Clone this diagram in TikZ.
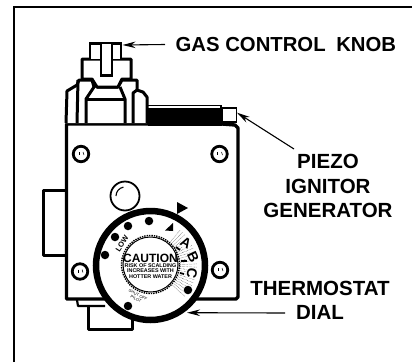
\documentclass[tikz,border=0pt]{standalone}
\usepackage{fontspec}
\setmainfont{Liberation Sans}
\usetikzlibrary{arrows.meta,calc}
\tikzset{
  px/.style={x=1pt,y=-1pt},
  thick line/.style={line width=3pt,line join=round},
  body line/.style={line width=3.4pt,line join=round},
  med line/.style={line width=2.2pt,line join=round},
  label text/.style={font=\bfseries\fontsize{20.5}{24.5}\selectfont,align=center,inner sep=0pt},
  leader/.style={line width=1.1pt,-{Stealth[length=13pt,width=6.5pt]}},
  screw/.style={circle,draw,line width=2.8pt,minimum size=15.5pt,inner sep=0pt,fill=white},
  dot/.style={circle,fill=black,minimum size=8.5pt,inner sep=0pt},
  small/.style={font=\bfseries\fontsize{5.4}{5.5}\selectfont,inner sep=0pt,align=center},
  dial letter/.style={font=\bfseries\fontsize{14}{14}\selectfont,fill=white,inner sep=.3pt},
}
\begin{document}
\begin{tikzpicture}[px]
\useasboundingbox (0,0) rectangle (412,362);
\fill[white] (0,0) rectangle (412,362);
% frame
\draw[line width=1.7pt] (14,362) -- (14,7.3) -- (412,7.3);
% left tab
\draw[thick line] (66,190) -- (43,190) -- (43,255) -- (66,255);
% bottom lug
\draw[med line] (77,300) -- (78,306) -- (105,306);
\draw[thick line] (88,307) -- (88,329) -- (132,329) -- (132,318);
% body
\draw[body line,fill=white] (66.5,124) -- (66.5,299) -- (236,299) -- (238,297) -- (238,128) -- (235,125) -- (222,124) -- cycle;
% piezo
\fill (148,108) rectangle (222,126);
\draw[line width=1.2pt] (148,105.5) -- (221,105.5) -- (221,108);
\node[draw,line width=1.3pt,fill=white,minimum size=14pt,inner sep=0pt] (piezo) at (229.5,115) {};
% knob
\draw[thick line,fill=white] (66,123) -- (67,91) -- (77,85) -- (79,80) -- (92,80) -- (97,87) -- (118,87) -- (122,80) -- (137,80) -- (137,90) -- (143,92) -- (147,97) -- (147,123);
\draw[thick line] (78,80) -- (77,123);
\draw[thick line] (137,90) -- (133,93) -- (133,123);
\draw[thick line] (92,80) -- (94,87) -- (86,99) -- (86,123);
\draw[thick line] (120,87) -- (125,99) -- (125,123);
\draw[thick line] (86,99) -- (125,99);
\draw[thick line,fill=white] (82,79) -- (82,59) -- (131,59) -- (131,79) -- (122,79) -- (118,87) -- (97,87) -- (92,79) -- cycle;
\draw[line width=2.2pt,fill=white] (90,59) -- (90,43.5) -- (121,43.5) -- (121,59);
\draw[line width=2.4pt,fill=white] (101,44) -- (101,75.5) -- (112,75.5) -- (112,44);
% screws
\node[screw] (s1) at (81,154) {};
\node[screw] (s2) at (219.5,154) {};
\node[screw] (s3) at (80,271.5) {};
\node[screw] (s4) at (220,270) {};
\foreach \n in {s1,s2,s3,s4}{\draw[line width=.5pt] (\n) ++(-2,-2) -- ++(0,3);\draw[line width=.5pt] (\n) ++(2,-2) -- ++(1,3);}
% button
\node[circle,draw,line width=1.8pt,minimum size=29pt,inner sep=0pt,fill=white] (btn) at (125,196) {};
\draw[line width=1.1pt] (116,196) arc (180:260:9);
% dial
\node[circle,draw,line width=6.5pt,fill=white,minimum size=109pt,inner sep=0pt] (dial) at (150.5,265.5) {};
% hatch
\foreach \a in {-50,-46,...,42}{\draw[line width=.4pt,densely dotted] ($(150.5,265.5)+(\a:30)$) -- ($(150.5,265.5)+(\a:46)$);}
\node[circle,draw,line width=1.4pt,densely dotted,minimum size=58pt,inner sep=0pt] (inner) at (150.5,264.5) {};
\node[circle,draw,line width=1pt,minimum size=55pt,inner sep=0pt] at (150.5,264.5) {};
% ticks
\draw[line width=1.8pt] (176,247) -- (180,250);
\draw[line width=1.8pt] (181,261) -- (187,261);
\draw[line width=1.8pt] (180,273) -- (184,274);
% pointer
\fill (177,202) -- (188,208) -- (177,214) -- cycle;
\fill (165,230.5) -- (173,223) -- (173,231) -- cycle;
% dots
\node[dot] at (149,221) {};
\node[dot] at (128,226) {};
\node[dot] at (115,237) {};
\node[dot] at (105,255) {};
\node[dot] at (188,290) {};
\node[dot] at (128,306) {};
\node[font=\bfseries\fontsize{7.5}{8}\selectfont,inner sep=0pt,rotate=58] at (122,243.5) {LOW};
\node[dial letter,rotate=-30] at (186,243) {A};
\node[dial letter,rotate=-65] at (193,257) {B};
\node[dial letter,rotate=-100] at (192,273) {C};
% caution
\node[inner sep=0pt,font=\bfseries\fontsize{12}{12}\selectfont] at (150.5,258) {CAUTION};
\node[small] at (150.5,271) {RISK OF SCALDING\\INCREASES WITH\\HOTTER WATER};
\node[font=\fontsize{4}{4.5}\selectfont,rotate=-27,inner sep=0pt,align=center] at (137,297) {SHUT OFF\\PILOT};
% labels
\node[label text,anchor=west,font=\bfseries\fontsize{20.3}{24.5}\selectfont] (gas) at (175.5,45) {GAS CONTROL\hspace{5pt} KNOB};
\node[label text] (pz) at (328,186) {PIEZO\\IGNITOR\\GENERATOR};
\node[label text] (th) at (320,300.5) {THERMOSTAT\\DIAL};
\coordinate (knobtip) at (122.5,45);
\coordinate (pztip) at (237,112.7);
\coordinate (thtip) at (187,312.7);
\coordinate (pzstart) at (294,149);
\coordinate (thstart) at (285,313);
\coordinate (gasstart) at (165,44.5);
\draw[leader] (gasstart) -- (knobtip);
\draw[leader] (pzstart) -- (pztip);
\draw[leader] (thstart) -- (thtip);
\end{tikzpicture}
\end{document}
